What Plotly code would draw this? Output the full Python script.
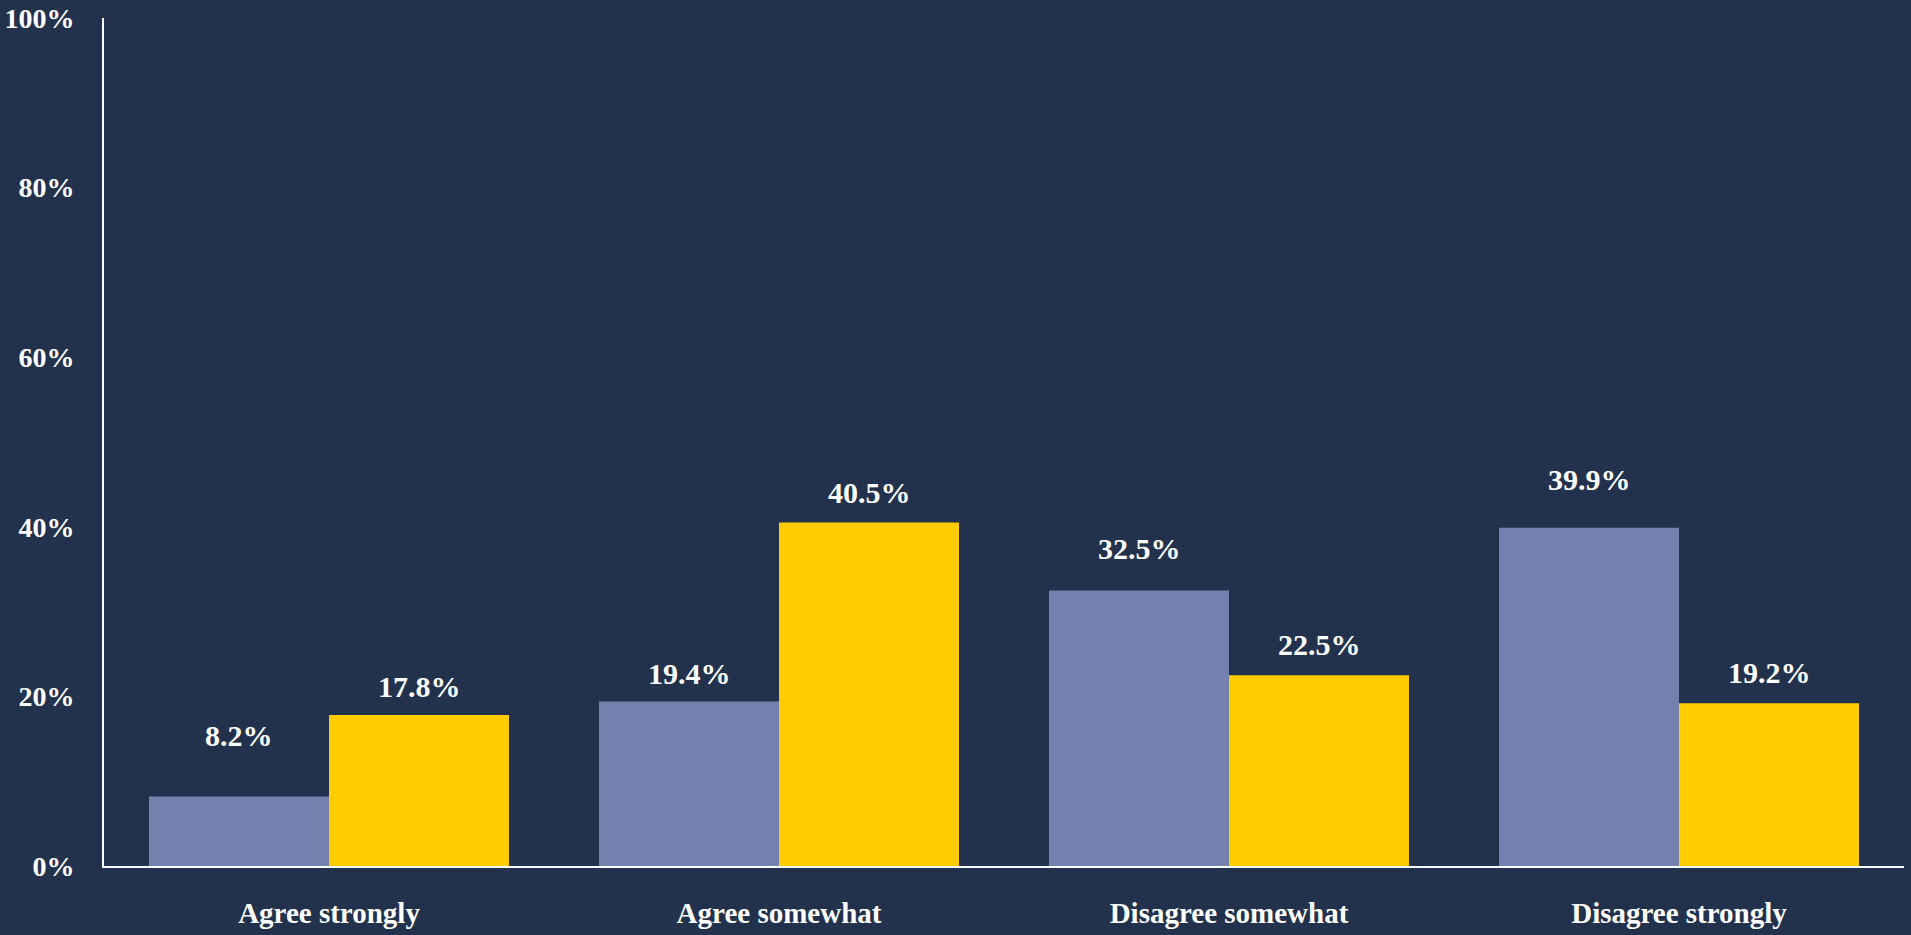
import plotly.graph_objects as go

# data
categories = ["Agree strongly", "Agree somewhat", "Disagree somewhat", "Disagree strongly"]
series_a = [8.2, 19.4, 32.5, 39.9]
series_b = [17.8, 40.5, 22.5, 19.2]
y_ticks = [0, 20, 40, 60, 80, 100]

# styling
bg = "#22324c"
col_a = "#7480ad"
col_b = "#ffcc00"
font_fam = "Liberation Serif, Times New Roman, serif"
# label lift above each bar (px), as in the original
lift_a = [61, 28, 42, 48]
lift_b = [29, 30, 31, 31]

fig = go.Figure()
fig.add_trace(go.Bar(x=categories, y=series_a, marker=dict(color=col_a, line_width=0),
                     name="A", hoverinfo="skip"))
fig.add_trace(go.Bar(x=categories, y=series_b, marker=dict(color=col_b, line_width=0),
                     name="B", hoverinfo="skip"))

for vals, shift, lifts in [(series_a, -90, lift_a), (series_b, 90, lift_b)]:
    for c, v, l in zip(categories, vals, lifts):
        fig.add_annotation(x=c, y=v, text=f"<b>{v:.1f}%</b>", showarrow=False,
                           xshift=shift, yshift=l, yanchor="middle",
                           font=dict(family=font_fam, size=30, color="white"))

fig.update_layout(
    barmode="group", bargap=0.2, bargroupgap=0,
    paper_bgcolor=bg, plot_bgcolor=bg,
    width=1911, height=935,
    margin=dict(l=104, r=7, t=18, b=69),
    showlegend=False,
    font=dict(family=font_fam, color="white"),
)
fig.update_yaxes(range=[0, 100], tickvals=y_ticks,
                 ticktext=[f"<b>{t}%</b>" for t in y_ticks],
                 showgrid=False, zeroline=False, automargin=False,
                 showline=True, linecolor="white", linewidth=2,
                 ticks="", ticklabelstandoff=22,
                 tickfont=dict(family=font_fam, size=28, color="white"))
fig.update_xaxes(showgrid=False, showline=True, linecolor="white", linewidth=2,
                 ticks="", ticklabelstandoff=20, automargin=False,
                 tickvals=categories, ticktext=[f"<b>{c}</b>" for c in categories],
                 tickfont=dict(family=font_fam, size=29, color="white"))

fig.write_html("out.html", config={"displayModeBar": False},
               post_script="document.body.style.margin='0';document.body.style.overflow='hidden';")
